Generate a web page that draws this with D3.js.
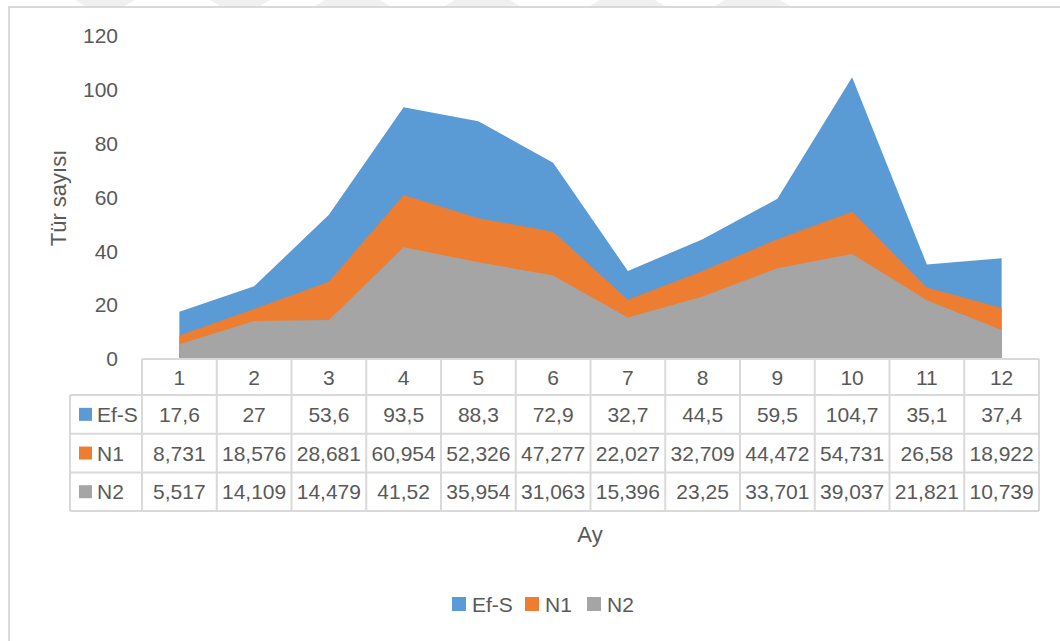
<!DOCTYPE html>
<html>
<head>
<meta charset="utf-8">
<script src="https://cdn.jsdelivr.net/npm/d3@7"></script>
<style>
  body { margin: 0; background: #fff; }
  svg { display: block; font-family: 'Liberation Sans', Arial, sans-serif; }
  text { fill: #595959; }
</style>
</head>
<body>
<script>
/* data */
const months = ['1', '2', '3', '4', '5', '6', '7', '8', '9', '10', '11', '12'];
const efS = [17.6, 27, 53.6, 93.5, 88.3, 72.9, 32.7, 44.5, 59.5, 104.7, 35.1, 37.4];
const n1 = [8.731, 18.576, 28.681, 60.954, 52.326, 47.277, 22.027, 32.709, 44.472, 54.731, 26.58, 18.922];
const n2 = [5.517, 14.109, 14.479, 41.52, 35.954, 31.063, 15.396, 23.25, 33.701, 39.037, 21.821, 10.739];
const seriesNames = ['Ef-S', 'N1', 'N2'];
const yTicks = [0, 20, 40, 60, 80, 100, 120];

const series = [
  { name: seriesNames[0], values: efS, color: '#5b9bd5' },
  { name: seriesNames[1], values: n1, color: '#ed7d31' },
  { name: seriesNames[2], values: n2, color: '#a5a5a5' }
];

const W = 1060, H = 641;
const plot = { left: 142, right: 1039, top: 36, bottom: 359 };
const fs = '21px';

const svg = d3.select('body').append('svg')
  .attr('width', W)
  .attr('height', H);

/* faint watermark at the very top */
const marks = [[75, 135, 1], [210, 270, 1], [325, 380, -1], [455, 510, -1], [600, 655, -1], [725, 780, -1]];
svg.selectAll('.wm')
  .data(marks)
  .enter().append('path')
  .attr('d', d => {
    const s = d[2] * 10;
    return `M${d[0]},0 L${d[1]},0 L${d[1] - s},6 L${d[0] + s},6 Z`;
  })
  .style('fill', '#f0f0f0');

/* chart frame (only top and left visible) */
svg.append('path')
  .attr('d', `M9,${H} L9,7 L${W},7`)
  .style('fill', 'none')
  .style('stroke', '#d9d9d9')
  .style('stroke-width', 2);

/* scales */
const xBand = d3.scaleBand().domain(months).range([plot.left, plot.right]).padding(0);
const xMid = m => xBand(m) + xBand.bandwidth() / 2;
const yScale = d3.scaleLinear().domain([0, 120]).range([plot.bottom, plot.top]);

/* areas, drawn overlapping (not stacked) */
const area = d3.area()
  .x((d, i) => xMid(months[i]))
  .y0(yScale(0))
  .y1(d => yScale(d));

svg.selectAll('.area')
  .data(series)
  .enter().append('path')
  .attr('class', 'area')
  .attr('d', d => area(d.values))
  .style('fill', d => d.color);

/* y axis labels */
const yAxis = d3.axisLeft(yScale).tickValues(yTicks).tickSize(0).tickPadding(0);
const yG = svg.append('g')
  .attr('transform', 'translate(118,0)')
  .call(yAxis);
yG.select('.domain').remove();
yG.selectAll('text')
  .style('font-size', fs)
  .style('fill', '#595959')
  .style('font-family', 'Liberation Sans, Arial, sans-serif');

svg.append('text')
  .attr('transform', 'translate(66,198) rotate(-90)')
  .attr('text-anchor', 'middle')
  .style('font-size', '22px')
  .text('Tür sayısı');

/* data table */
const rowTops = [359, 395, 433.7, 472.4, 511];
const labelLeft = 70;
const grid = svg.append('g')
  .style('stroke', '#d9d9d9')
  .style('stroke-width', 2)
  .style('fill', 'none');

// horizontal lines
rowTops.forEach((y, i) => {
  grid.append('line')
    .attr('x1', i === 0 ? plot.left : labelLeft)
    .attr('x2', plot.right)
    .attr('y1', y).attr('y2', y);
});
// vertical lines
const vx = months.map(m => xBand(m)).concat([plot.right]);
vx.forEach(x => {
  grid.append('line')
    .attr('x1', x).attr('x2', x)
    .attr('y1', rowTops[0]).attr('y2', rowTops[4]);
});
grid.append('line')
  .attr('x1', labelLeft).attr('x2', labelLeft)
  .attr('y1', rowTops[1]).attr('y2', rowTops[4]);

// header row
svg.selectAll('.hdr')
  .data(months)
  .enter().append('text')
  .attr('x', d => xMid(d))
  .attr('y', (rowTops[0] + rowTops[1]) / 2 + 7.5)
  .attr('text-anchor', 'middle')
  .style('font-size', fs)
  .text(d => d);

const fmt = v => String(v).replace('.', ',');

series.forEach((s, r) => {
  const yc = (rowTops[r + 1] + rowTops[r + 2]) / 2;
  svg.append('rect')
    .attr('x', 79).attr('y', yc - 6.5)
    .attr('width', 13).attr('height', 13)
    .style('fill', s.color);
  svg.append('text')
    .attr('x', 97).attr('y', yc + 7.5)
    .style('font-size', fs)
    .text(s.name);
  svg.selectAll('.cell' + r)
    .data(s.values)
    .enter().append('text')
    .attr('x', (d, i) => xMid(months[i]))
    .attr('y', yc + 7.5)
    .attr('text-anchor', 'middle')
    .style('font-size', fs)
    .text(d => fmt(d));
});

/* x axis title */
svg.append('text')
  .attr('x', 590).attr('y', 542)
  .attr('text-anchor', 'middle')
  .style('font-size', '22px')
  .text('Ay');

/* legend */
const legendX = [452, 525, 587];
const legend = svg.selectAll('.legend')
  .data(series)
  .enter().append('g')
  .attr('class', 'legend')
  .attr('transform', (d, i) => `translate(${legendX[i]},597)`);
legend.append('rect')
  .attr('width', 14).attr('height', 14)
  .style('fill', d => d.color);
legend.append('text')
  .attr('x', 20).attr('y', 14.5)
  .style('font-size', fs)
  .text(d => d.name);
</script>
</body>
</html>
